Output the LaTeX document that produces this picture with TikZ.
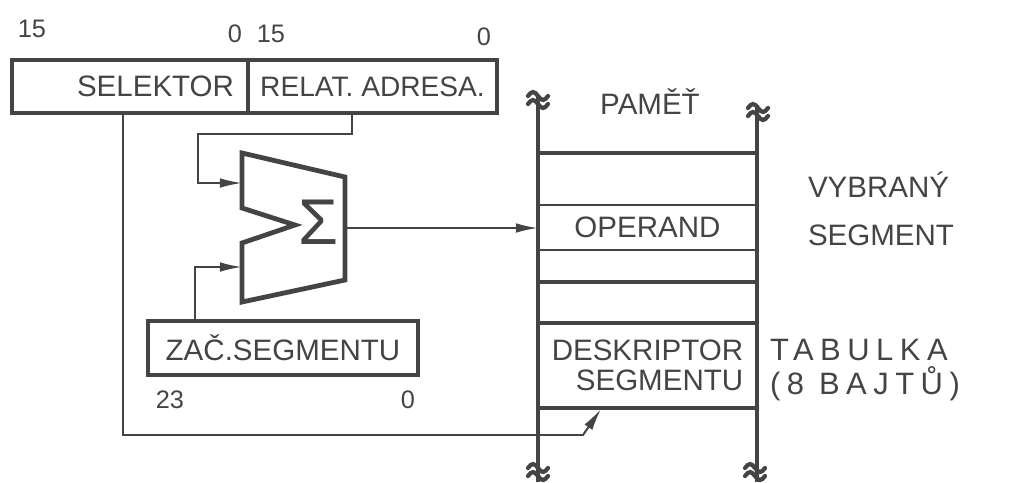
\documentclass[tikz,border=0pt]{standalone}
\usepackage{fontspec}
\setmainfont{Liberation Sans}
\newfontfamily\spaced[LetterSpace=21]{Liberation Sans}
\usepackage{tikz}
\usetikzlibrary{arrows.meta}
\definecolor{ink}{HTML}{444444}

\begin{document}
\begin{tikzpicture}[
    x=0.025cm, y=-0.025cm,
    every node/.style={text=ink, inner sep=0pt, outer sep=0pt},
    reg/.style={draw=ink, line width=3.4pt, font=\fontsize{21}{24}\selectfont},
    lbl/.style={font=\fontsize{21}{21}\selectfont},
    num/.style={font=\fontsize{18}{20}\selectfont},
    wide/.style={font=\fontsize{22}{24}\spaced, align=left},
    conn/.style={draw=ink, line width=1.4pt},
    arr/.style={conn, -{Latex[length=5.5mm,width=2.4mm]}},
    mem/.style={draw=ink, line width=2.6pt},
    brk/.style={draw=ink, line width=3pt, line cap=round}
]
\useasboundingbox (0,0) rectangle (1014,482);

\node[reg, minimum width=5.9cm, minimum height=1.325cm, text width=5.2cm, inner xsep=0.35cm, align=right] (sel) at (130,86.5) {SELEKTOR};
\node[reg, minimum width=6.225cm, minimum height=1.325cm, font=\fontsize{20}{24}\selectfont] (rel) at (372.5,86.5) {RELAT. ADRESA.};
\node[num] (n15a) at (32,29) {15};
\node[num] (n0a) at (235,34) {0};
\node[num] (n15b) at (271,34) {15};
\node[num] (n0b) at (484,37) {0};

\node[reg, minimum width=6.75cm, minimum height=1.35cm] (zac) at (283,348) {ZAČ.SEGMENTU};
\node[num] (n23) at (170,400) {23};
\node[num] (n0c) at (408,400) {0};

\draw[reg] (242,153) -- (345,177) -- (345,280) -- (242,302) -- (242,243) -- (295,225) -- (242,208) -- cycle;
\node[font=\fontsize{46}{46}\selectfont] (sig) at (318,222) {Σ};
\coordinate (in1) at (242,183);
\coordinate (in2) at (242,267);
\coordinate (sum) at (345,228);

\draw[mem] (538,95) -- (538,482);
\draw[mem] (757,105) -- (757,482);
\foreach \y/\lw in {153/2.8, 205/1.8, 250/1.8, 282/2.8, 323/2.8, 408/2.8}
    \draw[draw=ink, line width=\lw pt] (538,\y) -- (757,\y);
\foreach \bx/\by in {538/100, 758/112, 538/472, 755/472}
    \draw[brk] (\bx-10,\by-4) sin ++(5,-4) cos ++(5,4) sin ++(5,4) cos ++(5,-4)
               (\bx-10,\by+4) sin ++(5,-4) cos ++(5,4) sin ++(5,4) cos ++(5,-4);

\node[lbl] (pam) at (650,102) {PAMĚŤ};
\node[lbl, minimum width=5.475cm, minimum height=1.125cm] (oper) at (647.5,227.5) {OPERAND};
\node[lbl, minimum width=5.475cm, minimum height=2.125cm, align=right, font=\fontsize{21}{21}\selectfont] (desc) at (647.5,365.5) {DESKRIPTOR\\SEGMENTU};

\node[lbl, anchor=west, align=left, font=\fontsize{21}{34}\selectfont] (vyb) at (808,209) {VYBRANÝ\\SEGMENT};
\node[wide, anchor=west] (tab) at (770,370) {TABULKA\\(8 BAJTŮ)};

\coordinate (reltap) at (352,113);
\coordinate (zactap) at (195,321);
\coordinate (seltap) at (123,113);
\coordinate (desctap) at (601,409);

\draw[arr] (reltap) |- (198,134) |- (in1);
\draw[arr] (zactap) |- (in2);
\draw[arr] (sum) -- (sum -| oper.west);
\draw[arr] (seltap) |- (583,435) -- (desctap);
\end{tikzpicture}
\end{document}
